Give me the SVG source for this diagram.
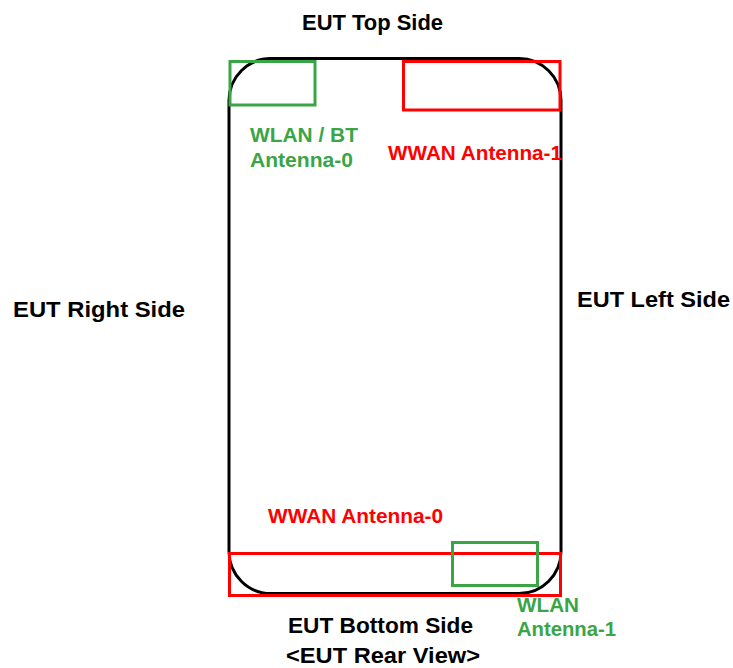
<svg xmlns="http://www.w3.org/2000/svg" width="733" height="668" viewBox="0 0 733 668">
<style>
.t{font-family:"Liberation Sans",Arial,sans-serif;font-weight:bold;font-size:22.5px;fill:#000}
.r{fill:#ff0000;font-size:21px}
.g{fill:#3aa547;font-size:21px}
.rb{fill:none;stroke:#ff0000;stroke-width:3}
.gb{fill:none;stroke:#3aa547;stroke-width:3}
</style>
<rect width="733" height="668" fill="#fff"/>
<g id="eut">
<rect x="229" y="58.5" width="332" height="535" rx="42" ry="42" fill="none" stroke="#000" stroke-width="3"/>
</g>
<g id="wwan1-box"><rect class="rb" x="403.5" y="61.5" width="156.5" height="48.5"/></g>
<g id="wlan0-box"><rect class="gb" x="230" y="61.5" width="85" height="43.5"/></g>
<g id="wwan0-box"><rect class="rb" x="229.5" y="553.5" width="331" height="42"/></g>
<g id="wlan1-box"><rect class="gb" x="452.5" y="542.5" width="85" height="43"/></g>
<g id="labels">
<text class="t" x="302" y="30" textLength="141" lengthAdjust="spacingAndGlyphs">EUT Top Side</text>
<text class="t" x="13" y="317" textLength="172" lengthAdjust="spacingAndGlyphs">EUT Right Side</text>
<text class="t" x="577" y="307" textLength="153" lengthAdjust="spacingAndGlyphs">EUT Left Side</text>
<text class="t" x="288" y="633" textLength="185" lengthAdjust="spacingAndGlyphs">EUT Bottom Side</text>
<text class="t" x="286" y="663" textLength="194" lengthAdjust="spacingAndGlyphs">&lt;EUT Rear View&gt;</text>
<text class="t g" x="250" y="142" textLength="108" lengthAdjust="spacingAndGlyphs">WLAN / BT</text>
<text class="t g" x="250" y="167" textLength="103" lengthAdjust="spacingAndGlyphs">Antenna-0</text>
<text class="t r" x="388" y="160" textLength="174" lengthAdjust="spacingAndGlyphs">WWAN Antenna-1</text>
<text class="t r" x="268" y="523" textLength="175" lengthAdjust="spacingAndGlyphs">WWAN Antenna-0</text>
<text class="t g" x="517" y="612" textLength="62" lengthAdjust="spacingAndGlyphs">WLAN</text>
<text class="t g" x="517" y="636" textLength="99" lengthAdjust="spacingAndGlyphs">Antenna-1</text>
</g>
</svg>
